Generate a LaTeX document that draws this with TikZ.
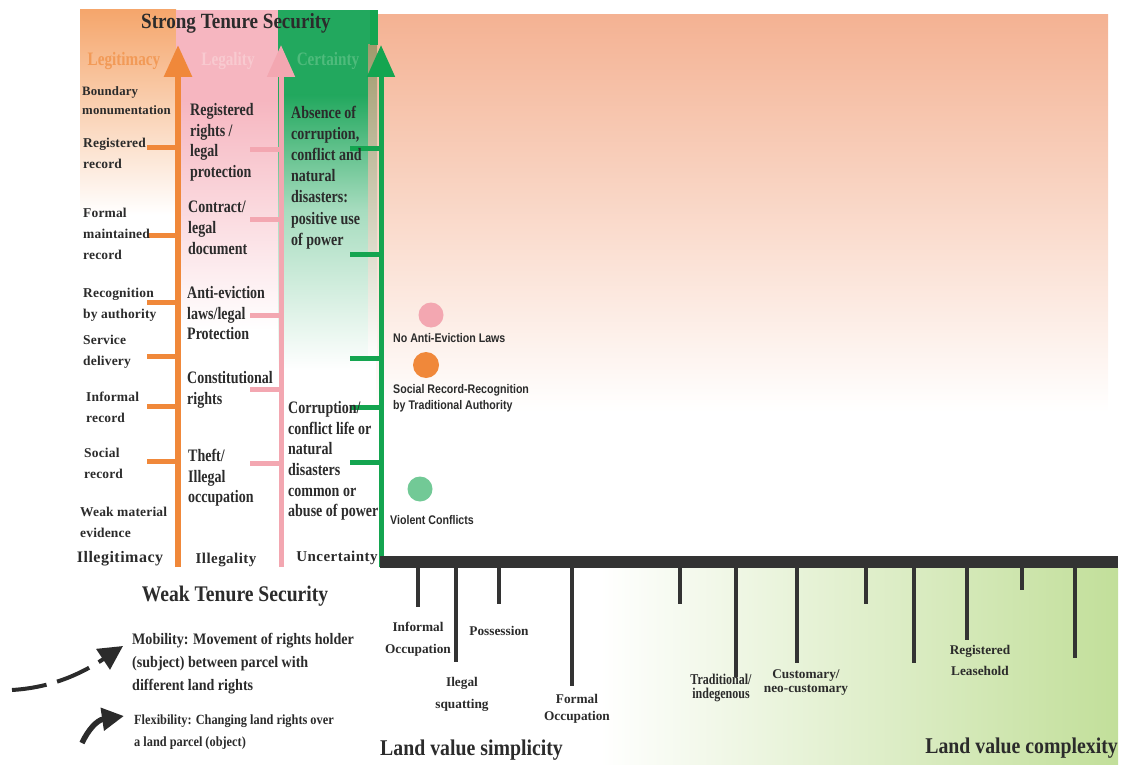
\documentclass[tikz,border=0pt]{standalone}
\usepackage{fontspec}
\setmainfont{Liberation Serif}
\newfontfamily\cnd{Liberation Serif}[FakeStretch=0.8]
\newfontfamily\hdr{Liberation Serif}[FakeStretch=0.88]
\newfontfamily\spc{Liberation Serif}[LetterSpace=3]
\newfontfamily\spl{Liberation Serif}[LetterSpace=1.2]
\newfontfamily\nsans{Liberation Sans}[FakeStretch=0.85]
\usetikzlibrary{arrows.meta}
\definecolor{orA}{HTML}{F0883A}
\definecolor{orBG}{HTML}{F5A66C}
\definecolor{pkA}{HTML}{F3A7B1}
\definecolor{pkBG}{HTML}{F6B6C0}
\definecolor{gnA}{HTML}{14A550}
\definecolor{gnBG}{HTML}{22A85E}
\definecolor{peach}{HTML}{F4B293}
\definecolor{barc}{HTML}{333333}
\definecolor{lgreen}{HTML}{C2DF9A}
\definecolor{txt}{HTML}{2B2B2B}
\definecolor{olive}{HTML}{A09A6C}
\tikzset{
  colarrow/.style={line width=6pt,-{Triangle[length=32pt,width=27pt]}},
  otick/.style={line width=5pt,orA},
  ptick/.style={line width=5pt,pkA},
  gtick/.style={line width=5pt,gnA},
  btick/.style={line width=4pt,barc},
  lt/.style={anchor=north west,align=left,inner sep=0pt,text=txt,font=\spl\bfseries\fontsize{13.5}{20.5}\selectfont},
  mt/.style={anchor=north west,align=left,inner sep=0pt,text=txt,font=\cnd\bfseries\fontsize{17.5}{20.7}\selectfont},
  bt/.style={anchor=center,inner sep=0pt,text=txt,font=\spc\bfseries\fontsize{15}{18}\selectfont},
  ax/.style={anchor=north,align=center,inner sep=0pt,text=txt,font=\bfseries\fontsize{13.3}{22}\selectfont},
  ct/.style={anchor=north west,align=left,inner sep=0pt,text=txt,font=\nsans\bfseries\fontsize{12.5}{16}\selectfont},
  dot/.style={circle,inner sep=0pt,minimum size=25pt},
  big/.style={inner sep=0pt,text=txt,font=\hdr\bfseries\fontsize{21.7}{24}\selectfont},
}
\begin{document}
\begin{tikzpicture}[x=1pt,y=-1pt]
\useasboundingbox (0,0) rectangle (1121,765);
% backgrounds
\shade[top color=peach,bottom color=white] (376,15) rectangle (1108,412);
\shade[top color=orBG,bottom color=white] (80,10) rectangle (176,215);
\fill[pkBG] (176,10) rectangle (278,100);
\shade[top color=pkBG,bottom color=white] (176,100) rectangle (278,330);
\fill[gnBG] (278,10) rectangle (370,95);
\shade[top color=gnBG,bottom color=gnBG!40] (278,95) rectangle (370,210);
\shade[top color=gnBG!40,bottom color=white] (278,210) rectangle (370,370);
\shade[top color=olive,bottom color=white] (368,45) rectangle (377,360);
\fill[gnA] (370,10) rectangle (378,45);
\shade[left color=white,right color=lgreen] (600,568) rectangle (1118,765);
% headers
\node[big] (strong) at (236,23) {Strong Tenure Security};
\node[big,font=\hdr\bfseries\fontsize{22.3}{24}\selectfont] (weak) at (235,596) {Weak Tenure Security};
\node[inner sep=0pt,text=orA!85,font=\cnd\bfseries\fontsize{19}{22}\selectfont] (legit) at (124,61) {Legitimacy};
\node[inner sep=0pt,text=pkA!60,font=\cnd\bfseries\fontsize{19}{22}\selectfont] (legal) at (228,61) {Legality};
\node[inner sep=0pt,text=gnA!75,font=\cnd\bfseries\fontsize{19}{22}\selectfont] (cert) at (328,61) {Certainty};
% column arrows
\coordinate (oB) at (178,567); \coordinate (oT) at (178,45);
\coordinate (pB) at (281,567); \coordinate (pT) at (281,45);
\coordinate (gB) at (381,567); \coordinate (gT) at (381,45);
\draw[colarrow,orA] (oB) -- (oT);
\draw[colarrow,pkA,line width=5pt] (pB) -- (pT);
\draw[colarrow,gnA,line width=5pt] (gB) -- (gT);
% ticks
\foreach \y in {147,235,302,356,406,461} \draw[otick] (147,\y) -- (176,\y);
\foreach \y in {149,219,315,389,463} \draw[ptick] (250,\y) -- (279,\y);
\foreach \y in {148,254,358,407,462} \draw[gtick] (350,\y) -- (379,\y);
% left column
\node[lt,font=\spl\bfseries\fontsize{12.8}{19}\selectfont] (t1) at (82,86) {Boundary\\monumentation};
\node[lt] (t2) at (83,138) {Registered\\record};
\node[lt,font=\spl\bfseries\fontsize{13.5}{21}\selectfont] (t3) at (83,208) {Formal\\maintained\\record};
\node[lt] (t4) at (83,288) {Recognition\\by authority};
\node[lt] (t5) at (83,335) {Service\\delivery};
\node[lt] (t6) at (86,392) {Informal\\record};
\node[lt] (t7) at (84,448) {Social\\record};
\node[lt] (t8) at (80,507) {Weak material\\evidence};
\node[bt,font=\spc\bfseries\fontsize{16}{18}\selectfont] (t9) at (120,559) {Illegitimacy};
% middle column
\node[mt] (m1) at (190,103) {Registered\\rights /\\legal\\protection};
\node[mt] (m2) at (188,201) {Contract/\\legal\\document};
\node[mt] (m3) at (187,286) {Anti-eviction\\laws/legal\\Protection};
\node[mt] (m4) at (187,371) {Constitutional\\rights};
\node[mt] (m5) at (188,449) {Theft/\\Illegal\\occupation};
\node[bt] (m6) at (226,560) {Illegality};
% green column
\node[mt,font=\cnd\bfseries\fontsize{17.5}{21.1}\selectfont] (g1) at (291,106) {Absence of\\corruption,\\conflict and\\natural\\disasters:\\positive use\\of power};
\node[mt] (g2) at (288,401) {Corruption/\\conflict life or\\natural\\disasters\\common or\\abuse of power};
\node[bt] (g3) at (337,558) {Uncertainty};
% circles
\node[dot,fill=pkA] (c1) at (431,315) {};
\node[ct] (c1t) at (393,333) {No Anti-Eviction Laws};
\node[dot,fill=orA,minimum size=26pt] (c2) at (426,365) {};
\node[ct] (c2t) at (393,384) {Social Record-Recognition\\by Traditional Authority};
\node[dot,fill=gnA!60] (c3) at (420,489) {};
\node[ct] (c3t) at (390,515) {Violent Conflicts};
% axis
\fill[barc] (380,556) rectangle (1118,568);
\foreach \x/\e in {418/607,456/662,499/604,572/686,680/604,736/677,797/663,866/604,914/663,967/640,1022/590,1075/658}
  \draw[btick] (\x,568) -- (\x,\e);
\node[ax] (a1) at (418,622) {Informal\\Occupation};
\node[ax] (a2) at (462,677) {Ilegal\\squatting};
\node[ax] (a3) at (499,626) {Possession};
\node[ax,font=\bfseries\fontsize{13.3}{17.5}\selectfont] (a4) at (577,694) {Formal\\Occupation};
\node[ax,font=\cnd\bfseries\fontsize{15}{13.5}\selectfont] (a5) at (721,674) {Traditional/\\indegenous};
\node[ax,font=\bfseries\fontsize{13.3}{14}\selectfont] (a6) at (806,669) {Customary/\\neo-customary};
\node[ax,font=\bfseries\fontsize{13.3}{21}\selectfont] (a7) at (980,645) {Registered\\Leasehold};
\node[anchor=west,inner sep=0pt,text=txt,font=\hdr\bfseries\fontsize{22.5}{26}\selectfont] (simp) at (380,750) {Land value simplicity};
\node[anchor=east,inner sep=0pt,text=txt,font=\hdr\bfseries\fontsize{22.5}{26}\selectfont] (comp) at (1118,748) {Land value complexity};
% legend
\coordinate (d0) at (12,690);
\coordinate (d1) at (123,646);
\draw[line width=4pt,txt,dash pattern=on 35pt off 11pt,-{Triangle[length=24pt,width=24pt]}] (d0) .. controls (45,688) and (75,678) .. (d1);
\coordinate (f0) at (82,743);
\coordinate (f1) at (124,716);
\draw[line width=5.5pt,txt,-{Triangle[length=22pt,width=22pt]}] (f0) .. controls (88,730) and (97,720) .. (f1);
\node[anchor=north west,align=left,inner sep=0pt,text=txt,font=\hdr\bfseries\fontsize{16}{23}\selectfont] (mob) at (132,633) {Mobility: Movement of rights holder\\(subject) between parcel with\\different land rights};
\node[anchor=north west,align=left,inner sep=0pt,text=txt,font=\hdr\bfseries\fontsize{14}{22}\selectfont] (flex) at (134,715) {Flexibility: Changing land rights over\\a land parcel (object)};
\end{tikzpicture}
\end{document}
